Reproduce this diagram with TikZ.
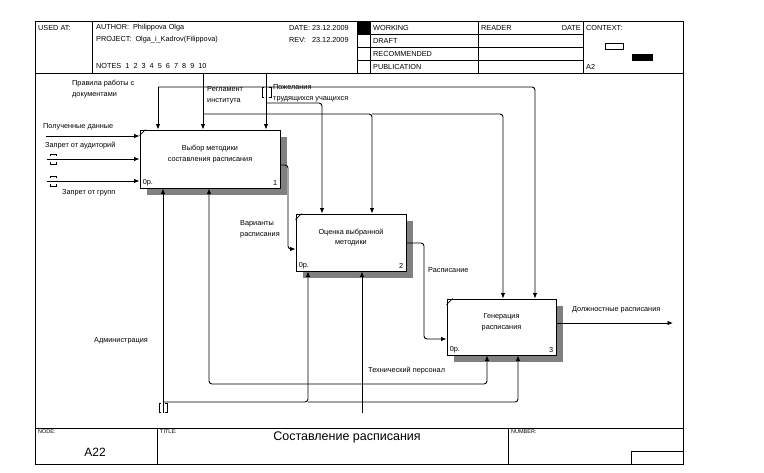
\documentclass[tikz,border=0pt]{standalone}
\usepackage{fontspec}
\setmainfont{Liberation Sans}
\usetikzlibrary{arrows.meta,calc}
\begin{document}
\begin{tikzpicture}[x=1pt,y=-1pt,
  every node/.style={font=\fontsize{7.3}{10.5}\selectfont, inner sep=0pt},
  lbl/.style={anchor=west},
  frameline/.style={line width=0.8pt},
  conn/.style={line width=0.9pt, rounded corners=3pt},
  arr/.style={conn, -{Latex[length=5.5pt,width=4.5pt]}},
  box/.style={draw, line width=0.9pt, fill=white, rectangle},
  shadow/.style={fill=black!50},
  tunnel/.style={line width=0.8pt}
]
\fill[white] (0,0) rectangle (764,472);
\useasboundingbox (0,0) rectangle (764,472);

% ---------- frame ----------
\draw[frameline] (35,21) rectangle (683,464);
\draw[frameline] (35,73) -- (683,73);
\draw[frameline] (92,21) -- (92,73);
\draw[frameline] (357,21) -- (357,73);
\draw[frameline] (370,21) -- (370,73);
\draw[frameline] (478,21) -- (478,73);
\draw[frameline] (583,21) -- (583,73);
\draw[frameline] (357,34) -- (583,34);
\draw[frameline] (357,47) -- (583,47);
\draw[frameline] (357,60) -- (583,60);
\fill (357,21) rectangle (370,34);
\draw[line width=0.7pt] (605,43) rectangle (623,49);
\fill (632,54) rectangle (653,61);

\node[lbl] (usedat) at (38,28) {USED AT:};
\node[lbl] (author) at (96,28) {AUTHOR:\ \ Philippova Olga};
\node[lbl] (project) at (96,40) {PROJECT:\ \ Olga\_i\_Kadrov(Filippova)};
\node[lbl] (notes) at (96,66) {NOTES\ \ 1\ \ 2\ \ 3\ \ 4\ \ 5\ \ 6\ \ 7\ \ 8\ \ 9\ \ 10};
\node[lbl] (date) at (289,28) {DATE:\ 23.12.2009};
\node[lbl] (rev) at (289,40) {REV:\ \ \ 23.12.2009};
\node[lbl] (working) at (373,28) {WORKING};
\node[lbl] (draft) at (373,41) {DRAFT};
\node[lbl] (recom) at (373,54) {RECOMMENDED};
\node[lbl] (publ) at (373,67) {PUBLICATION};
\node[lbl] (reader) at (481,28) {READER};
\node[anchor=east] (rdate) at (581,28) {DATE};
\node[lbl] (context) at (586,28) {CONTEXT:};
\node[lbl] (atwo) at (586,67) {A2};

% bottom block
\draw[frameline] (35,428) -- (683,428);
\draw[frameline] (157,428) -- (157,464);
\draw[frameline] (508,428) -- (508,464);
\draw[frameline] (631,451) -- (683,451);
\draw[frameline] (631,451) -- (631,464);
\node[lbl, font=\fontsize{5.5}{6}\selectfont] (nodelbl) at (38,432) {NODE:};
\node[lbl, font=\fontsize{5.5}{6}\selectfont] (titlelbl) at (160,432) {TITLE:};
\node[lbl, font=\fontsize{5.5}{6}\selectfont] (numlbl) at (511,432) {NUMBER:};
\node[font=\fontsize{12}{14}\selectfont] (nodeval) at (95,452) {A22};
\node[font=\fontsize{12.5}{14}\selectfont] (titleval) at (347,437) {Составление расписания};

% ---------- boxes ----------
\node[box, minimum width=140pt, minimum height=58pt] (b1) at (210,159) {};
\node[box, minimum width=110pt, minimum height=57pt] (b2) at (351,242.5) {};
\node[box, minimum width=109pt, minimum height=56pt] (b3) at (501.5,327) {};

\foreach \b in {b1,b2,b3}{
  \fill[shadow] ($(\b.north east)+(0.5,7)$) rectangle ($(\b.south east)+(7,7)$);
  \fill[shadow] ($(\b.south west)+(7,0.5)$) rectangle ($(\b.south east)+(7,7)$);
  \draw[line width=0.6pt] ($(\b.north west)+(0,6)$) -- ($(\b.north west)+(6,0)$);
}

\node[align=center] (b1t) at ($(b1.center)+(0,-5)$) {Выбор методики\\составления расписания};
\node[align=center] (b2t) at ($(b2.center)+(0,-5)$) {Оценка выбранной\\методики};
\node[align=center] (b3t) at ($(b3.center)+(0,-5)$) {Генерация\\расписания};
\node[anchor=south west] (b1c) at ($(b1.south west)+(3,-2.5)$) {0р.};
\node[anchor=south east] (b1n) at ($(b1.south east)+(-3,-2.5)$) {1};
\node[anchor=south west] (b2c) at ($(b2.south west)+(3,-2.5)$) {0р.};
\node[anchor=south east] (b2n) at ($(b2.south east)+(-3,-2.5)$) {2};
\node[anchor=south west] (b3c) at ($(b3.south west)+(3,-2.5)$) {0р.};
\node[anchor=south east] (b3n) at ($(b3.south east)+(-3,-2.5)$) {3};

% ---------- coordinates ----------
\coordinate (prS) at (158,87);
\coordinate (prC) at (535,87);
\coordinate (rgS) at (203,73);
\coordinate (rgB) at (203,114);
\coordinate (rgC2) at (372,114);
\coordinate (rgC3) at (503,114);
\coordinate (pjS) at (266,73);
\coordinate (pjB) at (266,103);
\coordinate (pjC) at (322,103);
\coordinate (in1) at (46,136);
\coordinate (in2) at (47,159);
\coordinate (in3) at (47,181);
\coordinate (v1) at (288,165);
\coordinate (v1b) at (288,249);
\coordinate (v2) at (424,243);
\coordinate (v2b) at (424,339);
\coordinate (out3) at (673,323);
\coordinate (adS) at (163,413);
\coordinate (adB) at (163,402);
\coordinate (adC2) at (308,402);
\coordinate (adC3) at (518,402);
\coordinate (thS) at (362,413);
\coordinate (thB) at (362,384);
\coordinate (thL) at (209,384);
\coordinate (thR) at (487,384);

% ---------- controls ----------
\draw[arr] (prS) -- (prS |- b1.north);
\draw[arr] (prS) -- (prC) -- (prC |- b3.north);
\draw[arr] (rgS) -- (rgS |- b1.north);
\draw[arr] (rgB) -- (rgC2) -- (rgC2 |- b2.north);
\draw[arr] (rgC2) -- (rgC3) -- (rgC3 |- b3.north);
\draw[arr] (pjS) -- (pjS |- b1.north);
\draw[arr] (pjB) -- (pjC) -- (pjC |- b2.north);

% ---------- inputs ----------
\draw[arr] (in1) -- (in1 -| b1.west);
\draw[arr] (in2) -- (in2 -| b1.west);
\draw[arr] (in3) -- (in3 -| b1.west);

% ---------- outputs ----------
\draw[arr] (b1.east |- v1) -- (v1) -- (v1b) -- (v1b -| b2.west);
\draw[arr] (b2.east |- v2) -- (v2) -- (v2b) -- (v2b -| b3.west);
\draw[arr] (b3.east |- out3) -- (out3);

% ---------- mechanisms ----------
\draw[arr] (adS) -- (adS |- b1.south);
\draw[arr] (adB) -- (adC2) -- (adC2 |- b2.south);
\draw[arr] (adC2) -- (adC3) -- (adC3 |- b3.south);
\draw[arr] (thS) -- (thS |- b2.south);
\draw[arr] (thB) -- (thL) -- (thL |- b1.south);
\draw[arr] (thB) -- (thR) -- (thR |- b3.south);

% ---------- tunnels ----------
\draw[tunnel] (50,156) -- (50,154) -- (56,154) -- (56,156);
\draw[tunnel] (50,162) -- (50,164) -- (56,164) -- (56,162);
\draw[tunnel] (50,178) -- (50,176) -- (56,176) -- (56,178);
\draw[tunnel] (50,184) -- (50,186) -- (56,186) -- (56,184);
\draw[tunnel] (264,87) -- (262,87) -- (262,97) -- (264,97);
\draw[tunnel] (269,87) -- (271,87) -- (271,97) -- (269,97);
\draw[tunnel] (161,403) -- (159,403) -- (159,412) -- (161,412);
\draw[tunnel] (165,403) -- (167,403) -- (167,412) -- (165,412);

% ---------- labels ----------
\node[lbl, align=left] (prl) at (72,89) {Правила работы с\\документами};
\node[lbl, align=left] (rgl) at (207,95) {Регламент\\института};
\node[lbl, align=left] (pjl) at (273,93) {Пожелания\\трудящихся учащихся};
\node[lbl] (in1l) at (43,127) {Полученные данные};
\node[lbl] (in2l) at (45,146) {Запрет от аудиторий};
\node[lbl] (in3l) at (62,193) {Запрет от групп};
\node[lbl, align=left] (v1l) at (240,229) {Варианты\\расписания};
\node[lbl] (v2l) at (428,270) {Расписание};
\node[lbl] (o3l) at (572,310) {Должностные расписания};
\node[lbl] (adl) at (94,341) {Администрация};
\node[lbl] (thl) at (368,371) {Технический персонал};
\end{tikzpicture}
\end{document}
